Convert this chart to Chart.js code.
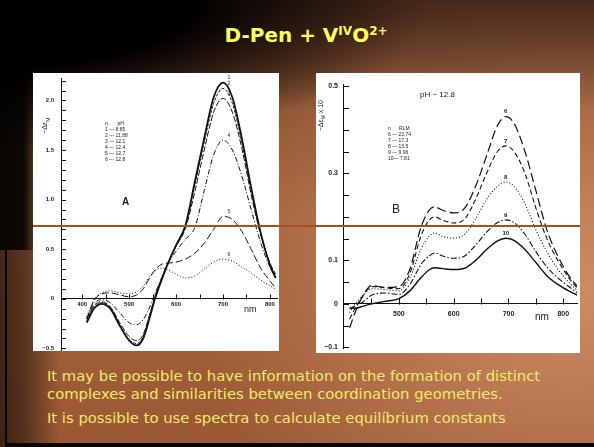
<!DOCTYPE html>
<html>
<head>
<meta charset="utf-8">
<script src="https://cdn.jsdelivr.net/npm/chart.js@4"></script>
<style>
  html, body { margin: 0; padding: 0; }
  body {
    width: 594px; height: 447px; overflow: hidden; position: relative;
    font-family: "DejaVu Sans", sans-serif;
    background:
      radial-gradient(ellipse 430px 150px at 0 0, rgba(0,0,0,1) 45%, rgba(0,0,0,0) 100%),
      linear-gradient(to bottom, rgba(25,12,6,0.55) 0, rgba(25,12,6,0.25) 60px, rgba(0,0,0,0) 110px),
      linear-gradient(to right, rgba(0,0,0,0.95) 0, rgba(0,0,0,0.9) 24px, rgba(0,0,0,0) 45px) 0 0 / 100% 250px no-repeat,
      linear-gradient(to right, rgba(0,0,0,0.6) 0, rgba(0,0,0,0.45) 24px, rgba(0,0,0,0) 60px) 0 250px / 100% 197px no-repeat,
      radial-gradient(ellipse 380px 300px at 570px 290px, rgba(205,140,100,1) 0%, rgba(205,140,100,0) 100%),
      linear-gradient(to bottom, #7a4c30 0%, #a4623c 50%, #9a5834 100%);
  }
  .frameL { position: absolute; left: 5px; top: 240px; width: 2px; height: 207px; background: #0a0502; }
  .frameB { position: absolute; left: 5px; bottom: 0; width: 589px; height: 4px; background: #0a0502; }
  .title { position: absolute; left: 0; width: 612px; top: 23px; text-align: center;
           color: #ffff5c; font-weight: bold; font-size: 20px; }
  .title sup { font-size: 12px; vertical-align: 7px; }
  .panel { position: absolute; background: #fff; }
  #panelA { left: 33px; top: 73px; width: 246px; height: 278px; }
  #panelB { left: 316px; top: 73px; width: 264px; height: 280px; }
  canvas { position: absolute; left: 0; }
  #chartA { top: -5px; }
  #chartB { top: 0; }
  .rule { position: absolute; left: 33px; top: 225px; width: 547px; height: 2px; background: #a4521f; }
  .note { position: absolute; font-family: "Liberation Sans", Arial, sans-serif; color: #222; white-space: nowrap; }
  .leg { font-size: 5px; line-height: 6px; }
  .body { position: absolute; left: 47px; color: #f2ea6a; font-size: 14.8px; line-height: 17.5px; white-space: nowrap; }
</style>
</head>
<body>
<div class="frameL"></div>
<div class="frameB"></div>
<div class="title">D-Pen + V<sup>IV</sup>O<sup>2+</sup></div>

<div class="panel" id="panelA">
  <canvas id="chartA" width="246" height="293"></canvas>
  <div class="note" style="left:5px;top:48px;font-size:7px;transform:rotate(-90deg);">−Δε<sub style="font-size:5px">M</sub></div>
  <div class="note leg" style="left:72px;top:47px;">n &nbsp;&nbsp;&nbsp;&nbsp;&nbsp;&nbsp;pH<br>1 — 8.85<br>2 --- 11.88<br>3 — 12.1<br>4 --- 12.4<br>5 — 12.7<br>6 --- 12.8</div>
  <div class="note" style="left:89px;top:123px;font-size:10px;font-weight:bold;">A</div>
  <div class="note" style="left:211px;top:231px;font-size:9px;">nm</div>
</div>

<div class="panel" id="panelB">
  <canvas id="chartB" width="264" height="285"></canvas>
  <div class="note" style="left:-10px;top:38px;font-size:7px;transform:rotate(-90deg);">−Δε<sub style="font-size:5px">M</sub> x 10</div>
  <div class="note" style="left:104px;top:17px;font-size:8px;">pH ~ 12.8</div>
  <div class="note leg" style="left:72px;top:52px;">n &nbsp;&nbsp;&nbsp;&nbsp;&nbsp;RLM<br>6 — 23.74<br>7 — 17.3<br>8 — 13.5<br>9 — 9.96<br>10— 7.81</div>
  <div class="note" style="left:76px;top:129px;font-size:12px;">B</div>
  <div class="note" style="left:219px;top:238px;font-size:10px;">nm</div>
</div>

<div class="rule"></div>

<div class="body" style="top:367px;">It may be possible to have information on the formation of distinct<br>complexes and similarities between coordination geometries.</div>
<div class="body" style="top:409px;">It is possible to use spectra to calculate equilíbrium constants</div>

<script>
// ---- panel A : -Δε vs nm, different pH ----
const nmA = [410, 425, 442, 460, 480, 500, 516, 530, 545, 555, 570, 583, 600, 620, 640, 660, 680, 700, 720, 740, 760, 780, 800, 812];
const curveA1 = [-0.24, -0.10, -0.05, -0.10, -0.27, -0.42, -0.47, -0.40, -0.17, 0.00, 0.20, 0.36, 0.54, 0.74, 1.18, 1.62, 2.03, 2.18, 2.03, 1.62, 1.12, 0.67, 0.34, 0.21];
const curveA2 = [-0.22, -0.09, -0.04, -0.09, -0.26, -0.41, -0.45, -0.38, -0.15, 0.01, 0.21, 0.36, 0.54, 0.73, 1.15, 1.58, 1.97, 2.12, 1.97, 1.58, 1.10, 0.67, 0.35, 0.23];
const curveA3 = [-0.20, -0.07, -0.03, -0.08, -0.24, -0.38, -0.42, -0.36, -0.14, 0.02, 0.21, 0.36, 0.53, 0.71, 1.08, 1.50, 1.88, 2.02, 1.88, 1.52, 1.05, 0.65, 0.36, 0.25];
const curveA4 = [-0.20, -0.05, -0.01, -0.04, -0.14, -0.24, -0.26, -0.21, -0.07, 0.05, 0.22, 0.36, 0.48, 0.60, 0.72, 1.09, 1.45, 1.60, 1.50, 1.24, 0.90, 0.57, 0.32, 0.22];
const curveA5 = [-0.20, -0.02, 0.05, 0.06, 0.04, 0.02, 0.04, 0.10, 0.22, 0.29, 0.35, 0.36, 0.37, 0.40, 0.46, 0.56, 0.70, 0.83, 0.80, 0.68, 0.50, 0.31, 0.18, 0.11];
const curveA6 = [-0.18, -0.01, 0.06, 0.08, 0.06, 0.05, 0.07, 0.13, 0.23, 0.28, 0.31, 0.29, 0.25, 0.21, 0.23, 0.30, 0.37, 0.40, 0.38, 0.32, 0.26, 0.19, 0.13, 0.10];
const namesA = ['1', '2', '3', '4', '5', '6'];
const xLabelsA = [400, 500, 600, 700, 800];
const yLabelsA = [-0.5, 0, 0.5, 1.0, 1.5, 2.0];

// ---- panel B : -Δε x10 vs nm, pH ~ 12.8, different RLM ----
const nmB = [410, 420, 435, 450, 475, 500, 520, 540, 555, 565, 580, 600, 620, 640, 660, 680, 695, 710, 730, 750, 770, 790, 810, 826];
const curveB6 = [-0.055, -0.02, 0.02, 0.042, 0.038, 0.04, 0.08, 0.175, 0.215, 0.223, 0.215, 0.209, 0.22, 0.27, 0.34, 0.41, 0.43, 0.415, 0.35, 0.26, 0.17, 0.11, 0.065, 0.04];
const curveB7 = [-0.035, -0.01, 0.02, 0.04, 0.037, 0.035, 0.07, 0.155, 0.192, 0.20, 0.192, 0.186, 0.195, 0.24, 0.30, 0.35, 0.363, 0.35, 0.30, 0.22, 0.15, 0.10, 0.06, 0.035];
const curveB8 = [-0.02, 0.0, 0.02, 0.035, 0.033, 0.03, 0.06, 0.125, 0.155, 0.163, 0.155, 0.151, 0.16, 0.195, 0.24, 0.27, 0.28, 0.27, 0.23, 0.17, 0.12, 0.08, 0.05, 0.03];
const curveB9 = [-0.01, -0.005, 0.005, 0.02, 0.025, 0.022, 0.045, 0.09, 0.11, 0.117, 0.11, 0.105, 0.11, 0.135, 0.165, 0.187, 0.193, 0.187, 0.16, 0.12, 0.085, 0.06, 0.04, 0.025];
const curveB10 = [-0.01, -0.01, -0.005, 0.0, 0.006, 0.012, 0.03, 0.06, 0.078, 0.083, 0.081, 0.079, 0.082, 0.10, 0.125, 0.145, 0.151, 0.146, 0.125, 0.095, 0.065, 0.045, 0.03, 0.02];
const namesB = ['6', '7', '8', '9', '10'];
const xLabelsB = [500, 600, 700, 800];
const yLabelsB = [-0.1, 0, 0.1, 0.3, 0.5];

function pts(xs, ys) {
  return ys.map((v, i) => ({ x: xs[i], y: v }));
}

function fmt(v) {
  if (v == 0) return '0';
  return (v < 0 ? '−' : '') + Math.abs(v).toFixed(1);
}

// small inward tick marks + the curve numbers at the peaks (like the scanned figure)
const scanMarks = {
  id: 'scanMarks',
  afterDatasetsDraw(chart, args, o) {
    const ctx = chart.ctx;
    const x = chart.scales.x, y = chart.scales.y;
    const y0 = Math.round(y.getPixelForValue(0)) + 0.5;
    ctx.save();
    ctx.strokeStyle = '#111';
    ctx.lineWidth = 1;
    ctx.beginPath();
    for (let v = o.xFrom; v <= o.xTo; v += o.xStep) {
      const px = Math.round(x.getPixelForValue(v)) + 0.5;
      ctx.moveTo(px, y0);
      ctx.lineTo(px, y0 - o.len);
    }
    for (let v = o.yFrom; v <= o.yTo + 1e-9; v += o.yStep) {
      const py = Math.round(y.getPixelForValue(v)) + 0.5;
      ctx.moveTo(x.left, py);
      ctx.lineTo(x.left + o.len, py);
    }
    ctx.stroke();
    ctx.fillStyle = '#222';
    ctx.font = o.font;
    ctx.textAlign = 'center';
    ctx.textBaseline = 'bottom';
    chart.data.datasets.forEach((ds, i) => {
      let k = 0;
      ds.data.forEach((p, j) => { if (p.y > ds.data[k].y) k = j; });
      const p = ds.data[k];
      ctx.fillText(o.names[i], x.getPixelForValue(p.x) + o.dx, y.getPixelForValue(p.y) - 2);
    });
    ctx.restore();
  }
};

function makeChart(id, sets, xr, yr, xLabels, yLabels, yWidth, pad, tickFont, xPad, yPad, marks) {
  return new Chart(document.getElementById(id).getContext('2d'), {
    type: 'line',
    data: { datasets: sets },
    options: {
      responsive: false,
      animation: false,
      layout: { padding: pad },
      plugins: { legend: { display: false }, tooltip: { enabled: false }, scanMarks: marks },
      elements: { point: { radius: 0 }, line: { tension: 0.4, cubicInterpolationMode: 'monotone', fill: false } },
      scales: {
        x: {
          type: 'linear', min: xr[0], max: xr[1],
          position: { y: 0 },
          grid: { display: false, drawTicks: false },
          border: { display: true, color: '#111', width: 1 },
          afterBuildTicks: s => { s.ticks = xLabels.map(v => ({ value: v })); },
          ticks: { autoSkip: false, maxRotation: 0, padding: xPad, color: '#222',
                   font: { family: 'Liberation Sans', size: tickFont, weight: 'bold' } }
        },
        y: {
          type: 'linear', min: yr[0], max: yr[1],
          afterFit: s => { s.width = yWidth; },
          grid: { display: false, drawTicks: false },
          border: { display: true, color: '#111', width: 1 },
          afterBuildTicks: s => { s.ticks = yLabels.map(v => ({ value: v })); },
          ticks: { autoSkip: false, padding: yPad, color: '#222', callback: v => fmt(v),
                   font: { family: 'Liberation Sans', size: tickFont, weight: 'bold' } }
        }
      }
    },
    plugins: [scanMarks]
  });
}

const ink = '#111';
const chartA = makeChart('chartA', [
  { data: pts(nmA, curveA1), borderColor: ink, borderWidth: 1.8 },
  { data: pts(nmA, curveA2), borderColor: ink, borderWidth: 1, borderDash: [3, 1.5] },
  { data: pts(nmA, curveA3), borderColor: ink, borderWidth: 1, borderDash: [6, 2] },
  { data: pts(nmA, curveA4), borderColor: ink, borderWidth: 1, borderDash: [5, 2, 1, 2] },
  { data: pts(nmA, curveA5), borderColor: ink, borderWidth: 1, borderDash: [7, 3] },
  { data: pts(nmA, curveA6), borderColor: ink, borderWidth: 1, borderDash: [1, 2] }
], [355, 815], [-0.52, 2.22], xLabelsA, yLabelsA, 28,
   { top: 0, right: 2, bottom: 0, left: 0 }, 6, 2, 7,
   { xFrom: 400, xTo: 800, xStep: 50, yFrom: -0.5, yTo: 2.2, yStep: 0.1, len: 5,
     names: namesA, dx: 6, font: '5px Liberation Sans' });

const chartB = makeChart('chartB', [
  { data: pts(nmB, curveB6), borderColor: ink, borderWidth: 1.2, borderDash: [9, 4] },
  { data: pts(nmB, curveB7), borderColor: ink, borderWidth: 1.1, borderDash: [5, 3] },
  { data: pts(nmB, curveB8), borderColor: ink, borderWidth: 1.1, borderDash: [1, 2] },
  { data: pts(nmB, curveB9), borderColor: ink, borderWidth: 1.1, borderDash: [6, 2, 1.5, 2] },
  { data: pts(nmB, curveB10), borderColor: ink, borderWidth: 1.4 }
], [398, 825], [-0.103, 0.505], xLabelsB, yLabelsB, 27,
   { top: 11, right: 3, bottom: 0, left: 0 }, 7, 6, 5,
   { xFrom: 450, xTo: 800, xStep: 50, yFrom: -0.1, yTo: 0.5, yStep: 0.05, len: 6,
     names: namesB, dx: 0, font: 'bold 6px Liberation Sans' });
</script>
</body>
</html>
